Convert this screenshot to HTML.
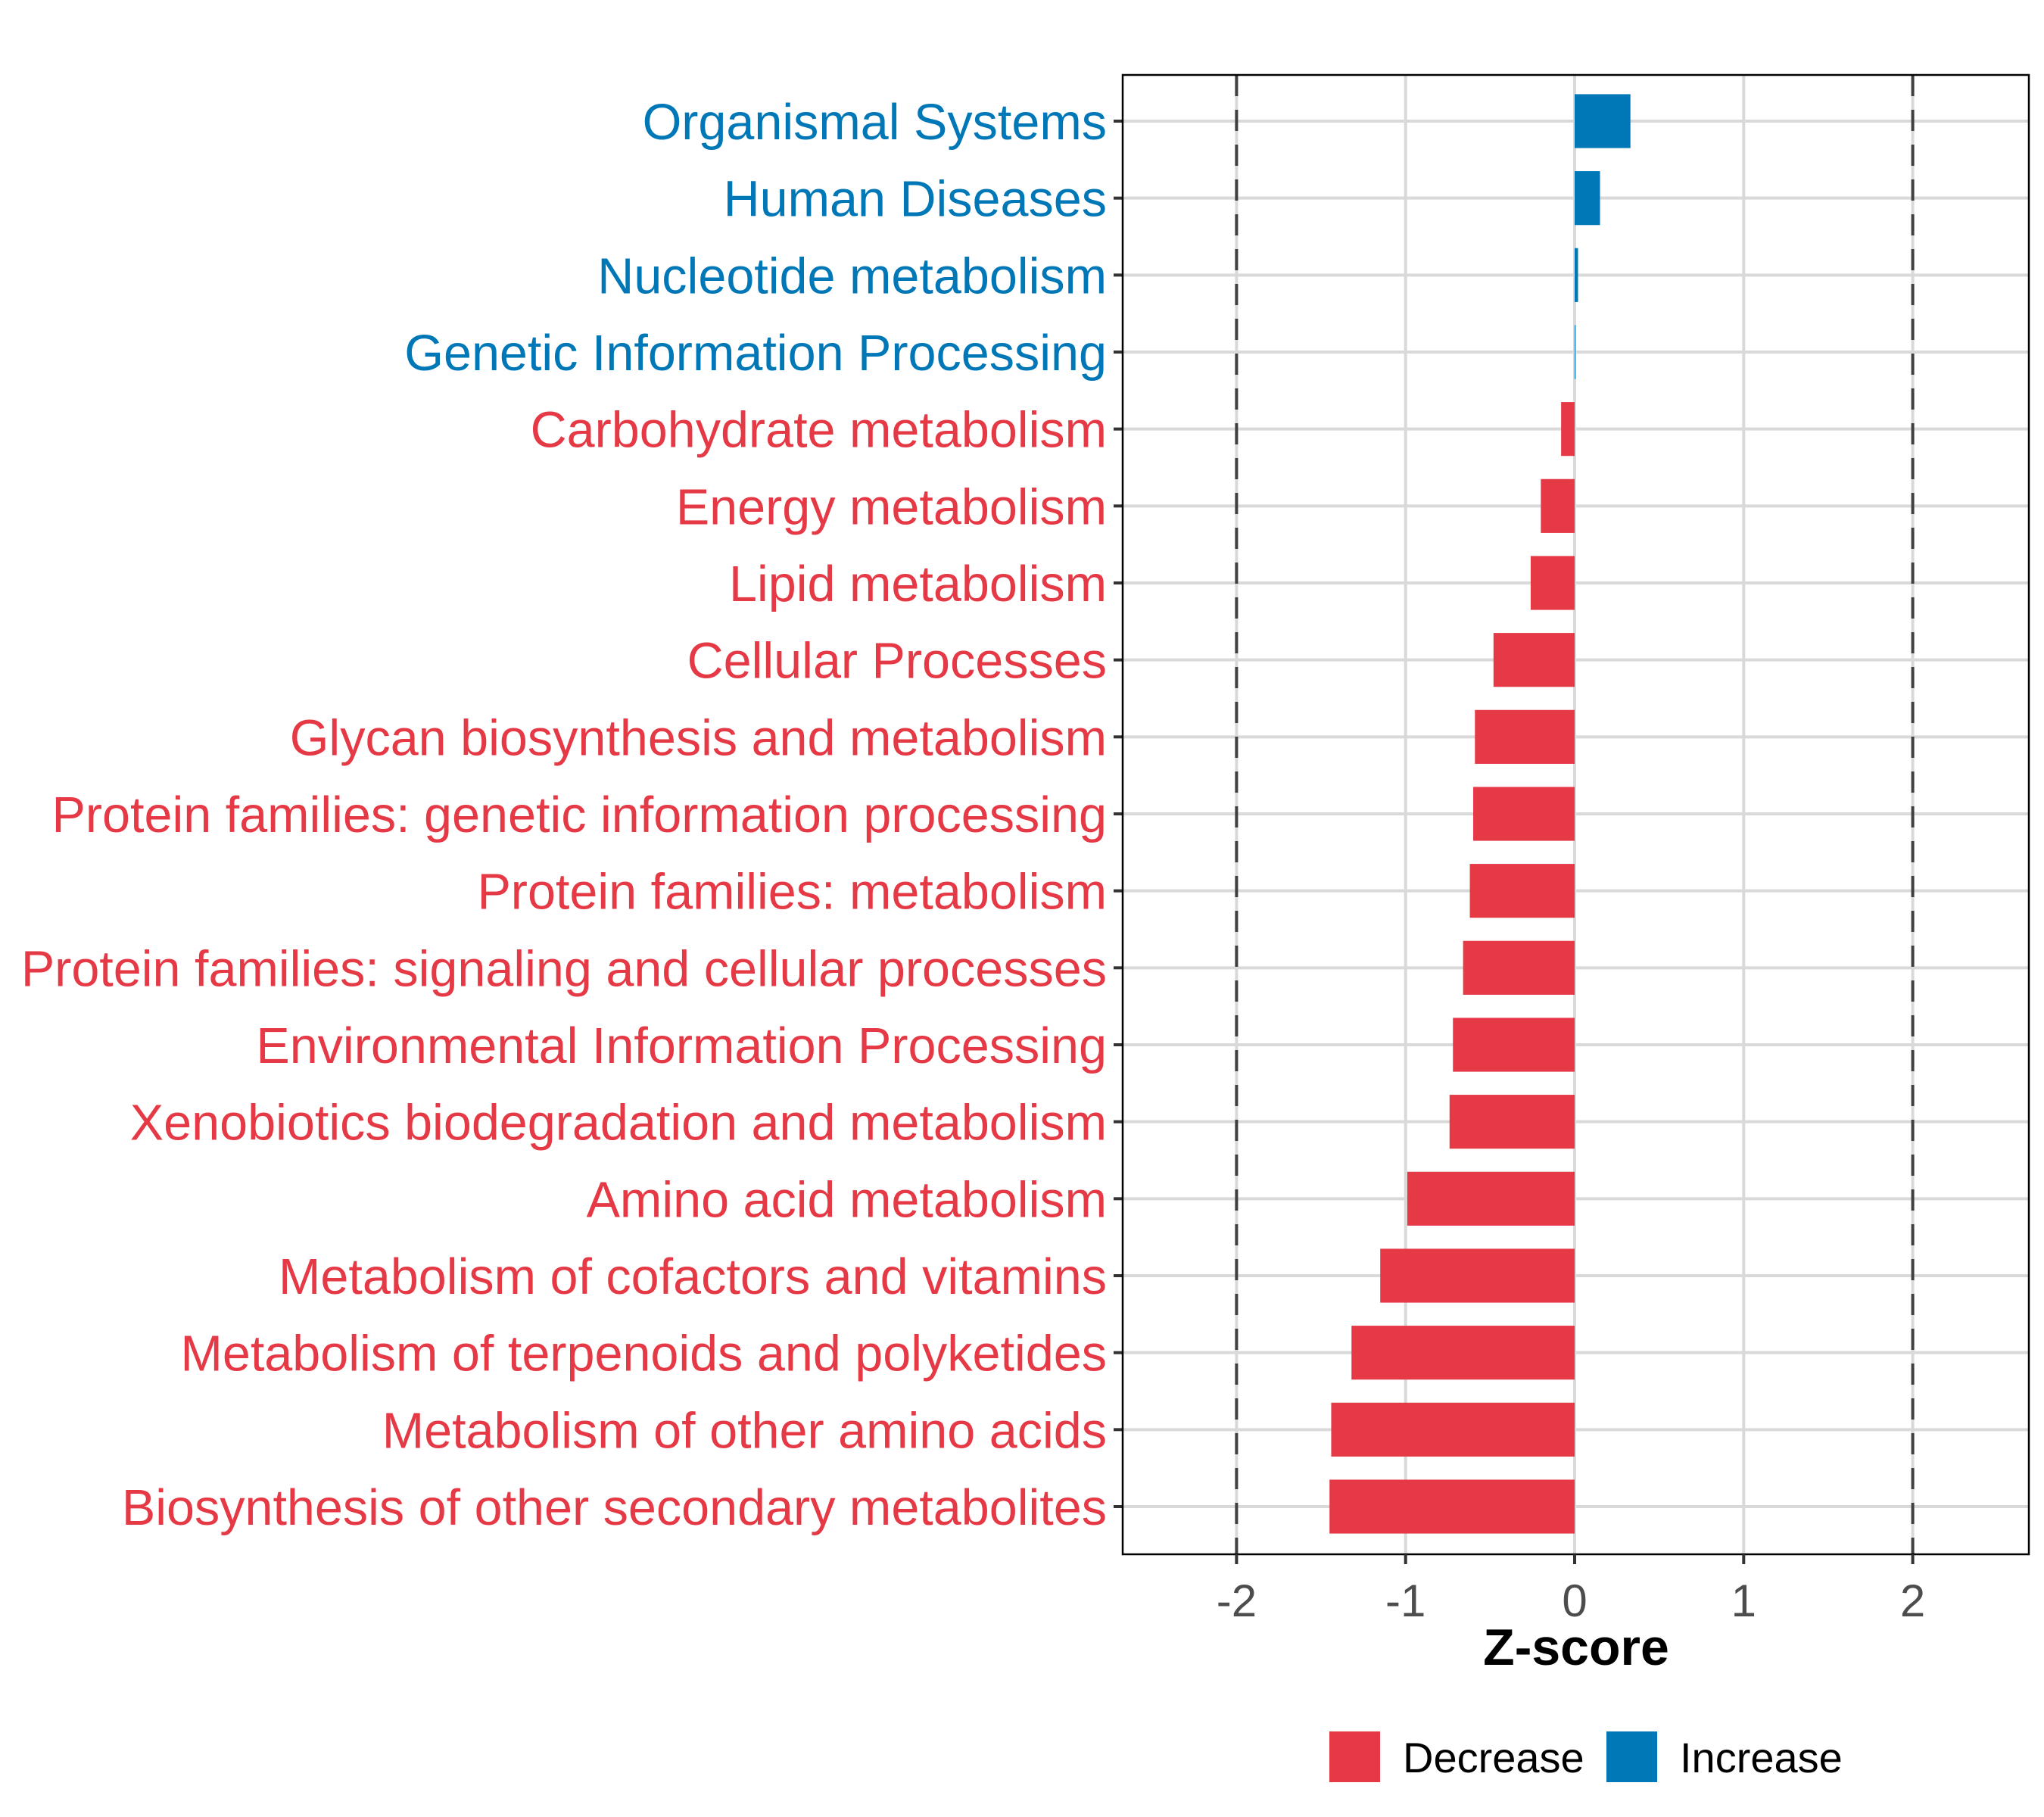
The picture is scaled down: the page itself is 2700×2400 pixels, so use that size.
<!DOCTYPE html>
<html><head><meta charset="utf-8"><style>html,body{margin:0;padding:0;background:#fff}svg{display:block}</style></head>
<body>
<svg id="chart" width="2700" height="2400" viewBox="0 0 2700 2400" xmlns="http://www.w3.org/2000/svg" font-family="Liberation Sans, Arial, sans-serif">
<rect width="2700" height="2400" fill="#fff"/>
<g id="grid"></g><g id="bars"></g><g id="labels"></g><g id="xaxis"></g>
<text x="2082" y="2199" font-size="68" font-weight="bold" text-anchor="middle" fill="#000">Z-score</text>
<g>
<rect x="1756" y="2287" width="67" height="67" fill="#E63946"/>
<text x="1853" y="2341" font-size="56" fill="#000">Decrease</text>
<rect x="2122" y="2287" width="67" height="67" fill="#0077B6"/>
<text x="2219" y="2341" font-size="56" fill="#000">Increase</text>
</g>
</svg>
<script>
const categories = ["Organismal Systems","Human Diseases","Nucleotide metabolism","Genetic Information Processing","Carbohydrate metabolism","Energy metabolism","Lipid metabolism","Cellular Processes","Glycan biosynthesis and metabolism","Protein families: genetic information processing","Protein families: metabolism","Protein families: signaling and cellular processes","Environmental Information Processing","Xenobiotics biodegradation and metabolism","Amino acid metabolism","Metabolism of cofactors and vitamins","Metabolism of terpenoids and polyketides","Metabolism of other amino acids","Biosynthesis of other secondary metabolites"];
const zscores = [0.33,0.15,0.02,0.005,-0.08,-0.2,-0.26,-0.48,-0.59,-0.6,-0.62,-0.66,-0.72,-0.74,-0.99,-1.15,-1.32,-1.44,-1.45];
const xTicks = [-2,-1,0,1,2];
const xTickLabels = ["-2","-1","0","1","2"];
const thresholds = [-2,2];

const NS="http://www.w3.org/2000/svg";
const PL=1483, PR=2680, PT=99, PB=2053;
const X0=2080, XU=223.3;
const x = v => X0 + v*XU;
const ROW0=160, STEP=(1990-160)/(categories.length-1);
const y = i => ROW0 + i*STEP;
const BH = STEP*0.7;
function mk(tag, attrs, parent){const e=document.createElementNS(NS,tag);for(const k in attrs)e.setAttribute(k,attrs[k]);parent.appendChild(e);return e;}
const grid=document.getElementById('grid'), bars=document.getElementById('bars'), labels=document.getElementById('labels'), xa=document.getElementById('xaxis');
xTicks.forEach(t=>{
  const l=mk('line',{x1:x(t),x2:x(t),y1:PT,y2:PB,stroke:'#d9d9d9','stroke-width':4},grid);
  
  
});
categories.forEach((c,i)=>{
  const l=mk('line',{x1:PL,x2:PR,y1:y(i),y2:y(i),stroke:'#d9d9d9','stroke-width':4},grid);
  
  
});
thresholds.forEach(t=>{
  const l=mk('line',{x1:x(t),x2:x(t),y1:PT,y2:PB,stroke:'#404040','stroke-width':4,'stroke-dasharray':'28 18'},grid);
  
  
});
categories.forEach((c,i)=>{
  const v=zscores[i], col = v>=0?'#0077B6':'#E63946';
  const r=mk('rect',{x:Math.min(x(0),x(v)),y:y(i)-BH/2,width:Math.max(Math.abs(x(v)-x(0)),1),height:BH,fill:col},bars);
  
  
  const t=mk('text',{x:1462,y:y(i)+24,'font-size':66.5,'text-anchor':'end',fill:col},labels);
  t.textContent=c;
  
  
  const tk=mk('line',{x1:1471,x2:PL,y1:y(i),y2:y(i),stroke:'#333','stroke-width':4},labels);
  
  
});
const fr=mk('rect',{x:PL,y:PT,width:PR-PL,height:PB-PT,fill:'none',stroke:'#000','stroke-width':2.5},xa);


xTicks.forEach((t,i)=>{
  const tk=mk('line',{x1:x(t),x2:x(t),y1:PB,y2:PB+13,stroke:'#333','stroke-width':4},xa);
  
  
  const tl=mk('text',{x:x(t),y:2135,'font-size':60,'text-anchor':'middle',fill:'#4d4d4d'},xa);
  tl.textContent=xTickLabels[i];
  
  
});
</script>
</body></html>
